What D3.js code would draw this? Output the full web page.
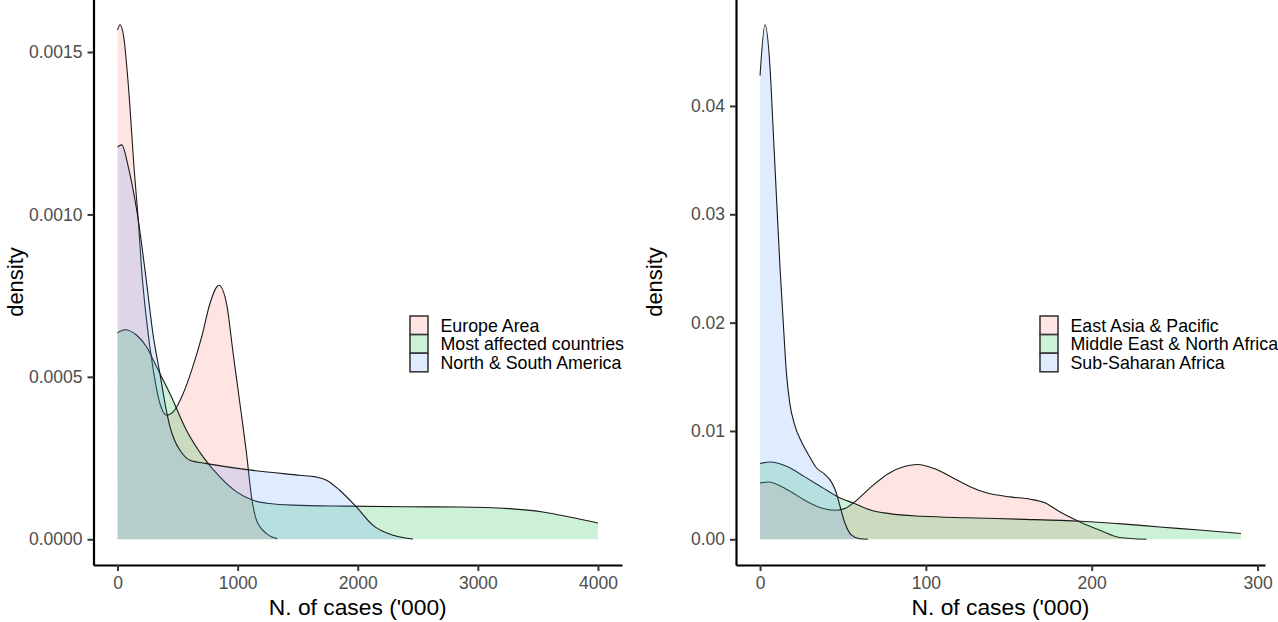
<!DOCTYPE html>
<html>
<head>
<meta charset="utf-8">
<script src="https://cdn.jsdelivr.net/npm/d3@7"></script>
<style>
  html, body { margin: 0; padding: 0; background: #ffffff; }
  svg { display: block; font-family: "Liberation Sans", Arial, sans-serif; }
</style>
</head>
<body>
<svg id="chart" width="1278" height="622"></svg>
<script>
// ---- Left panel: density of cases ('000), by group ----
const leftGroups = ["Europe Area", "Most affected countries", "North & South America"];

const europeArea = [
  [0, 0.001568], [21, 0.001584], [50, 0.00155], [98, 0.00136], [137, 0.001146],
  [173, 0.000982], [201, 0.000828], [240, 0.00068], [298, 0.00052], [353, 0.000418],
  [410, 0.000382], [470, 0.000395], [534, 0.000438], [617, 0.00052], [700, 0.000622],
  [769, 0.000725], [844, 0.000782], [908, 0.000725], [963, 0.000571], [1019, 0.000418],
  [1074, 0.000264], [1116, 0.00013], [1158, 0.000058], [1241, 0.0000175], [1330, 0.000002]
];

const mostAffected = [
  [0, 0.000636], [62, 0.000645], [160, 0.000628], [243, 0.000592], [326, 0.00053],
  [437, 0.000448], [575, 0.000335], [714, 0.000253], [852, 0.000192], [991, 0.000146],
  [1129, 0.00012], [1268, 0.00011], [1462, 0.000105], [1900, 0.000102], [2400, 0.0001],
  [2848, 0.0000994], [3264, 0.0000944], [3541, 0.000084], [3763, 0.0000686], [4000, 0.00005]
];

const americas = [
  [0, 0.001207], [35, 0.001214], [90, 0.001146], [146, 0.001043], [173, 0.000982],
  [229, 0.000828], [300, 0.00062], [348, 0.00052], [410, 0.00039], [437, 0.000346],
  [480, 0.0003], [520, 0.000274], [603, 0.000243], [742, 0.000233], [1129, 0.000212],
  [1518, 0.000197], [1650, 0.000192], [1740, 0.000182], [1850, 0.000151], [1989, 0.0000994],
  [2127, 0.000043], [2294, 0.0000123], [2460, 0.000001]
];

const leftXTicks = [0, 1000, 2000, 3000, 4000];
const leftYTicks = [0, 0.0005, 0.001, 0.0015];

// ---- Right panel ----
const rightGroups = ["East Asia & Pacific", "Middle East & North Africa", "Sub-Saharan Africa"];

const eastAsia = [
  [0, 0.0052], [5, 0.00529], [17, 0.00453], [27, 0.0036], [37, 0.00289], [45, 0.00268],
  [51, 0.00283], [57, 0.00345], [67, 0.00483], [77.5, 0.00607], [87.5, 0.00674], [95, 0.0069],
  [105, 0.00653], [117, 0.00561], [127, 0.00483], [136, 0.00431], [151, 0.00391], [163, 0.0037],
  [172, 0.00335], [181, 0.00252], [193, 0.0016], [205, 0.00083], [217, 0.00016], [233, 0.0]
];

const middleEast = [
  [0, 0.00699], [6, 0.00714], [17, 0.00668], [27, 0.00576], [37, 0.00483], [47, 0.00391],
  [57, 0.0033], [67, 0.00268], [78, 0.00237], [98, 0.00212], [125, 0.00198], [160, 0.00184],
  [193, 0.00166], [220, 0.0014], [241, 0.00114], [265, 0.00085], [290, 0.00053]
];

const subSaharan = [
  [0, 0.0428], [3, 0.0475], [6, 0.0436], [8, 0.0375], [10, 0.0313], [12, 0.0252],
  [14, 0.02], [16, 0.0152], [18, 0.0125], [21, 0.0105], [25, 0.009], [30, 0.0076],
  [34, 0.0066], [39, 0.006], [43, 0.0053], [45.5, 0.0045], [48.3, 0.003], [51.3, 0.00145],
  [55, 0.0004], [60, 0.00005], [65, 0.0]
];

const rightXTicks = [0, 100, 200, 300];
const rightYTicks = [0, 0.01, 0.02, 0.03, 0.04];

// Fill hues (three-colour hue palette), drawn translucent
const hues = ["#F8766D", "#00BA38", "#619CFF"];
const fillAlpha = 0.2;

const svg = d3.select("#chart");
svg.append("rect").attr("width", 1278).attr("height", 622).attr("fill", "#ffffff");

function drawPanel(opts) {
  const x = d3.scaleLinear().domain(opts.xDomain).range([opts.left, opts.right]);
  const y = d3.scaleLinear().domain(opts.yDomain).range([opts.bottom, opts.top]);
  const g = svg.append("g");

  const area = d3.area()
    .curve(d3.curveMonotoneX)
    .x(d => x(d[0]))
    .y0(y(0))
    .y1(d => y(d[1]));
  const line = d3.line()
    .curve(d3.curveMonotoneX)
    .x(d => x(d[0]))
    .y(d => y(d[1]));

  opts.series.forEach((s, i) => {
    g.append("path").datum(s)
      .attr("d", area)
      .attr("fill", hues[i])
      .attr("fill-opacity", fillAlpha)
      .attr("stroke", "none");
    g.append("path").datum(s)
      .attr("d", line)
      .attr("fill", "none")
      .attr("stroke", "#1a1a1a")
      .attr("stroke-width", 1.1);
  });

  // Axes
  const xAxis = g.append("g")
    .attr("transform", `translate(0,${opts.bottom})`)
    .call(d3.axisBottom(x).tickValues(opts.xTicks).tickFormat(d3.format("d"))
      .tickSize(6).tickSizeOuter(0).tickPadding(6));
  const yAxis = g.append("g")
    .attr("transform", `translate(${opts.left},0)`)
    .call(d3.axisLeft(y).tickValues(opts.yTicks).tickFormat(d3.format(opts.yFormat))
      .tickSize(6).tickSizeOuter(0).tickPadding(5));

  [xAxis, yAxis].forEach(ax => {
    ax.select(".domain").attr("stroke", "#000").attr("stroke-width", 2.2);
    ax.selectAll(".tick line").attr("stroke", "#333333").attr("stroke-width", 2);
    ax.selectAll(".tick text")
      .attr("fill", "#4d4d4d")
      .style("font-size", "17.5px")
      .style("font-family", "'Liberation Sans', Arial, sans-serif");
  });

  // Axis titles
  g.append("text")
    .attr("x", (opts.left + opts.right) / 2)
    .attr("y", 615)
    .attr("text-anchor", "middle")
    .attr("fill", "#000")
    .style("font-size", "22.8px")
    .text("N. of cases ('000)");
  g.append("text")
    .attr("transform", `translate(${opts.yTitleX},${(opts.top + opts.bottom) / 2}) rotate(-90)`)
    .attr("text-anchor", "middle")
    .attr("fill", "#000")
    .style("font-size", "22px")
    .text("density");

  // Legend
  const keyW = 18, keyH = 18.6;
  const lg = g.append("g").attr("transform", `translate(${opts.legendX},316)`);
  opts.groups.forEach((name, i) => {
    lg.append("rect")
      .attr("x", 0).attr("y", i * keyH)
      .attr("width", keyW).attr("height", keyH)
      .attr("fill", "#ffffff");
    lg.append("rect")
      .attr("x", 0).attr("y", i * keyH)
      .attr("width", keyW).attr("height", keyH)
      .attr("fill", hues[i]).attr("fill-opacity", fillAlpha)
      .attr("stroke", "#3a3a3a").attr("stroke-width", 1.6);
    lg.append("text")
      .attr("x", keyW + 12.5)
      .attr("y", i * keyH + keyH / 2)
      .attr("dy", "0.36em")
      .attr("fill", "#000")
      .style("font-size", "17.8px")
      .text(name);
  });
}

drawPanel({
  series: [europeArea, mostAffected, americas],
  groups: leftGroups,
  xDomain: [-200, 4200], yDomain: [-0.0000792, 0.0016632],
  left: 93.5, right: 622, top: -1, bottom: 565,
  xTicks: leftXTicks, yTicks: leftYTicks, yFormat: ".4f",
  yTitleX: 22.5, legendX: 410
});

drawPanel({
  series: [eastAsia, middleEast, subSaharan],
  groups: rightGroups,
  xDomain: [-14.5, 304.5], yDomain: [-0.002375, 0.049875],
  left: 736, right: 1265, top: -1, bottom: 565,
  xTicks: rightXTicks, yTicks: rightYTicks, yFormat: ".2f",
  yTitleX: 662, legendX: 1040
});
</script>
</body>
</html>
